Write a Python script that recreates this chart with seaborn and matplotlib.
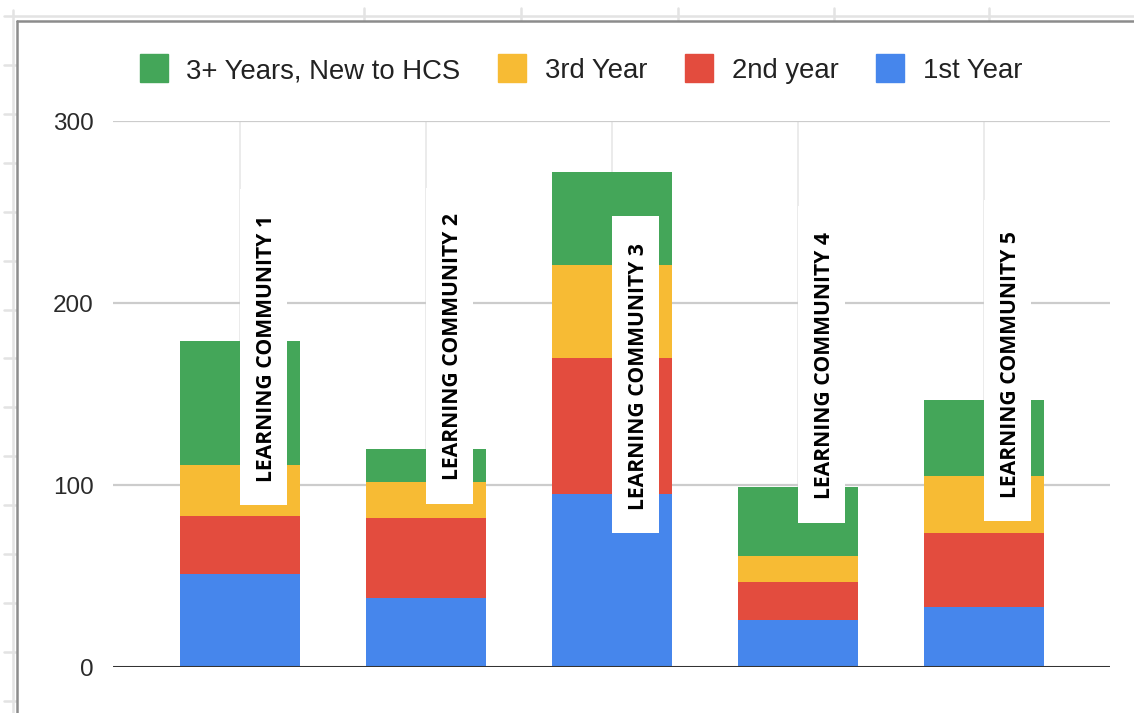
import numpy as np
import pandas as pd
import matplotlib
matplotlib.use("Agg")
import matplotlib.pyplot as plt
from matplotlib.lines import Line2D
from matplotlib.patches import Rectangle
import seaborn as sns

# ---------------- data ----------------
categories = ["LEARNING COMMUNITY 1", "LEARNING COMMUNITY 2", "LEARNING COMMUNITY 3",
              "LEARNING COMMUNITY 4", "LEARNING COMMUNITY 5"]
first_year = [51, 38, 95, 26, 33]
second_year = [32, 44, 75, 21, 41]
third_year = [28, 20, 51, 14, 31]
three_plus = [68, 18, 51, 38, 42]
series_names = ["3+ Years, New to HCS", "3rd Year", "2nd year", "1st Year"]
y_ticks = [0, 100, 200, 300]

# ---------------- styles / layout ----------------
colors = {"1st Year": "#4686ec", "2nd year": "#e34c3e",
          "3rd Year": "#f7bb34", "3+ Years, New to HCS": "#44a659"}
# white label boxes (data coords: bottom, top)
box_bottoms = [89.0, 89.7, 74.0, 79.1, 80.4]
box_tops = [262.8, 263.4, 247.6, 253.1, 256.8]
text_centers = [175.2, 176.0, 159.8, 165.7, 166.5]

W, H = 1134, 713
sns.set_theme(style="white")
plt.rcParams["font.family"] = ["Liberation Sans", "DejaVu Sans"]

fig = plt.figure(figsize=(W / 100, H / 100), dpi=100)
ax = fig.add_axes([113 / W, 1 - 667.3 / H, (1110 - 113) / W, (667.3 - 121) / H])

df = pd.DataFrame({"cat": categories, "1st Year": first_year, "2nd year": second_year,
                   "3rd Year": third_year, "3+ Years, New to HCS": three_plus})
stack_order = ["1st Year", "2nd year", "3rd Year", "3+ Years, New to HCS"]
cum = df[stack_order].cumsum(axis=1)

# vertical category gridlines
for i in range(len(categories)):
    ax.plot([i, i], [0, 300], color="#e8e8e8", lw=1.2, zorder=0.5)
# horizontal gridlines
for t in y_ticks[1:]:
    ax.axhline(t, color="#cccccc", lw=1.6, zorder=0.6)

bar_w = 120 / 186
for s in reversed(stack_order):
    sns.barplot(x=df["cat"], y=cum[s], color=colors[s], saturation=1, width=bar_w,
                errorbar=None, ax=ax, zorder=2, linewidth=0)

ax.axhline(0, color="#333333", lw=2.2, zorder=3)

ax.set_xlim((113 - 240) / 186, (1110 - 240) / 186)
ax.set_ylim(0, 300)
ax.set_yticks(y_ticks)
ax.set_yticklabels([str(t) for t in y_ticks])
ax.tick_params(axis="y", length=0, pad=14, labelsize=17.5, labelcolor="#2a2a2a")
ax.set_xticks([])
ax.set_xlabel("")
ax.set_ylabel("")
for sp in ax.spines.values():
    sp.set_visible(False)

# white label boxes with rotated category names
box_w = 47 / 186
for i, name in enumerate(categories):
    ax.add_patch(Rectangle((i, box_bottoms[i]), box_w, box_tops[i] - box_bottoms[i],
                           facecolor="white", edgecolor="none", zorder=4))
    ax.text(i + box_w / 2 + 3 / 186, text_centers[i], name, rotation=90,
            ha="center", va="center", fontsize=15.2, fontweight="bold",
            family=["Open Sans", "DejaVu Sans"], color="black", zorder=5)

# legend
handles = [Line2D([0], [0], marker="s", linestyle="none", markersize=19.8,
                  markerfacecolor=colors[n], markeredgecolor=colors[n]) for n in series_names]
fig.legend(handles, series_names, loc="center", bbox_to_anchor=(581 / W, 1 - 71 / H),
           ncol=4, frameon=False, fontsize=19.8, handlelength=1.0, handletextpad=0.69,
           columnspacing=1.38, borderpad=0, labelcolor="#222222")

# spreadsheet frame decoration (figure pixel coords)
def fline(xs, ys, **kw):
    fig.add_artist(Line2D([x / W for x in xs], [1 - y / H for y in ys],
                          transform=fig.transFigure, **kw))

light = dict(color="#e3e3e3", lw=1.8)
fline([4, W], [16, 16], **light)
fline([13, 13], [10, H], **light)
for x in [364, 521, 678, 834, 989]:
    fline([x, x], [8, 20], **light)
for y in np.arange(65, H, 48.9):
    fline([4, 16], [y, y], **light)
fline([17, W], [21, 21], color="#8c8c8c", lw=1.8)
fline([17, 17], [21, H], color="#8c8c8c", lw=1.8)

fig.savefig("out.png", dpi=100)
